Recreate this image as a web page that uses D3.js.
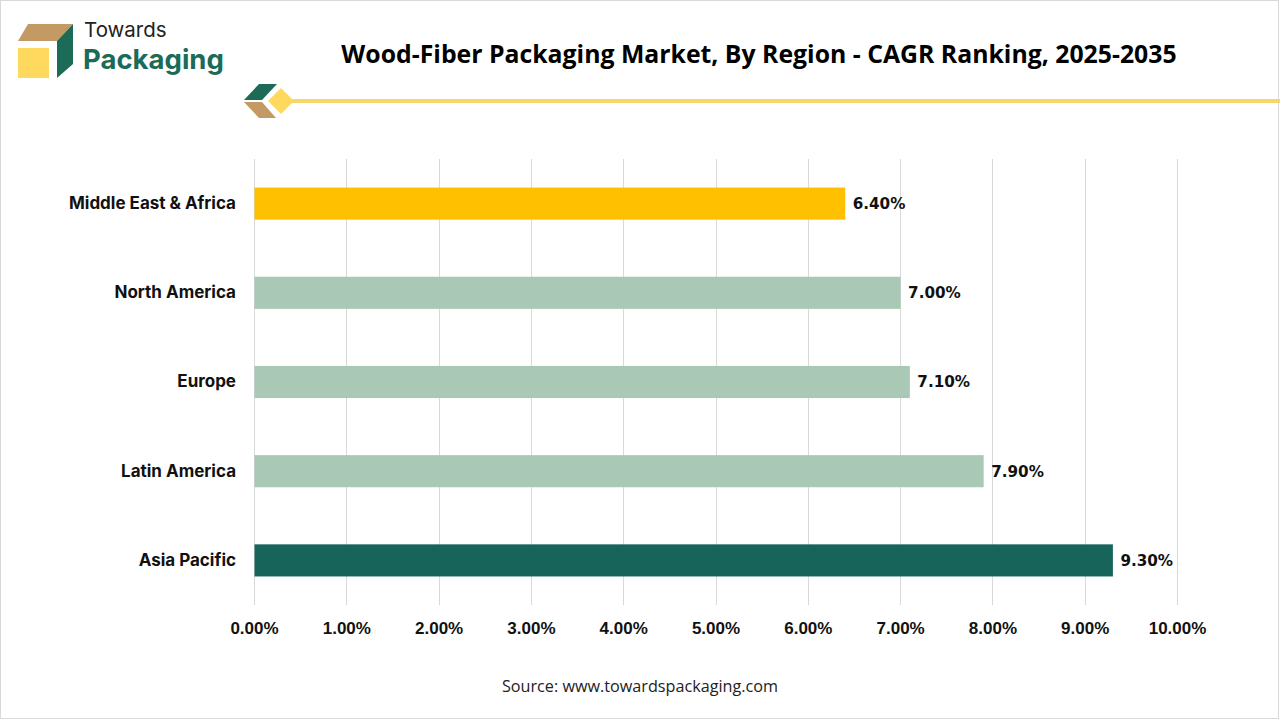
<!DOCTYPE html>
<html>
<head>
<meta charset="utf-8">
<script src="https://cdn.jsdelivr.net/npm/d3@7"></script>
<style>
  html, body { margin: 0; padding: 0; background: #fff; }
  svg { display: block; }
</style>
</head>
<body>
<div id="chart"></div>
<script>
const regions = ["Middle East & Africa", "North America", "Europe", "Latin America", "Asia Pacific"];
const cagr = [6.4, 7.0, 7.1, 7.9, 9.3];
const barColors = ["#FFC000", "#A9C8B5", "#A9C8B5", "#A9C8B5", "#17645A"];
const ticks = [0, 1, 2, 3, 4, 5, 6, 7, 8, 9, 10];

const W = 1280, H = 720;
const margin = {top: 159, right: 103, bottom: 115, left: 254},
    width = W - margin.left - margin.right,
    height = H - margin.top - margin.bottom;

const svg = d3.select("#chart").append("svg")
    .attr("width", W)
    .attr("height", H);

// frame
svg.append("rect")
    .attr("x", 0.5).attr("y", 0.5)
    .attr("width", W - 2).attr("height", H - 2)
    .attr("fill", "#fff").attr("stroke", "#d9d9d9");

// logo
const logo = svg.append("g");
logo.append("polygon").attr("points", "18,41 28,24 73,24 57,41").attr("fill", "#C49A64");
logo.append("polygon").attr("points", "57,41 73,24 73,64 57,78").attr("fill", "#1B6B57");
logo.append("rect").attr("x", 18).attr("y", 48).attr("width", 31).attr("height", 30).attr("fill", "#FFD95E");
logo.append("text").attr("x", 84).attr("y", 37)
    .attr("font-family", "Inter, 'Open Sans', sans-serif").attr("font-size", 20.5)
    .attr("fill", "#222").text("Towards");
logo.append("text").attr("x", 83).attr("y", 69)
    .attr("font-family", "Inter, 'Open Sans', sans-serif").attr("font-size", 27.5).attr("font-weight", 700)
    .attr("fill", "#1B6B57").text("Packaging");

// title
svg.append("text")
    .attr("x", 759).attr("y", 63)
    .attr("text-anchor", "middle")
    .attr("font-family", "'Open Sans', 'Noto Sans', sans-serif")
    .attr("font-size", 24.8).attr("font-weight", 700)
    .attr("fill", "#000")
    .text("Wood-Fiber Packaging Market, By Region - CAGR Ranking, 2025-2035");

// title decoration
const deco = svg.append("g");
deco.append("line").attr("x1", 288).attr("x2", W).attr("y1", 101).attr("y2", 101)
    .attr("stroke", "#F7D56B").attr("stroke-width", 4);
deco.append("polygon").attr("points", "244,100 259,84 277,84 262,100").attr("fill", "#1B6B57");
deco.append("polygon").attr("points", "244,102 262,102 276,118 259,118").attr("fill", "#C49A64");
deco.append("polygon").attr("points", "281,88 294,101 281,114 268,101").attr("fill", "#FFD95E");

const g = svg.append("g")
    .attr("transform", "translate(" + margin.left + "," + margin.top + ")");

const x = d3.scaleLinear()
    .domain([0, 10])
    .range([0, width]);

const y = d3.scaleBand()
    .domain(regions)
    .range([0, height])
    .paddingInner(0.64)
    .paddingOuter(0.32);

// gridlines
g.selectAll(".grid")
    .data(ticks)
    .join("line")
    .attr("class", "grid")
    .attr("x1", d => Math.round(x(d)) + 0.5)
    .attr("x2", d => Math.round(x(d)) + 0.5)
    .attr("y1", 0)
    .attr("y2", height)
    .attr("stroke", "#d9d9d9")
    .attr("stroke-width", 1);

// x axis labels
const xAxis = g.append("g")
    .attr("transform", "translate(0," + height + ")")
    .call(d3.axisBottom(x).tickValues(ticks).tickSize(0).tickPadding(17)
        .tickFormat(d => d.toFixed(2) + "%"));
xAxis.select(".domain").remove();
xAxis.selectAll("text")
    .attr("font-family", "'Liberation Sans', Arial, sans-serif")
    .attr("font-size", 17).attr("font-weight", 700).attr("fill", "#111");

// y axis labels
const yAxis = g.append("g")
    .call(d3.axisLeft(y).tickSize(0).tickPadding(18));
yAxis.select(".domain").remove();
yAxis.selectAll("text")
    .attr("font-family", "Inter, 'Open Sans', sans-serif")
    .attr("font-size", 17).attr("font-weight", 700).attr("fill", "#111");

// bars
g.selectAll(".bar")
    .data(regions)
    .join("rect")
    .attr("class", "bar")
    .attr("x", x(0) + 0.5)
    .attr("y", d => y(d))
    .attr("width", (d, i) => x(cagr[i]) - x(0))
    .attr("height", y.bandwidth())
    .attr("fill", (d, i) => barColors[i]);

// value labels
g.selectAll(".val")
    .data(regions)
    .join("text")
    .attr("class", "val")
    .attr("x", (d, i) => x(cagr[i]) + 8)
    .attr("y", d => y(d) + y.bandwidth() / 2)
    .attr("dy", "0.36em")
    .attr("font-family", "'DejaVu Sans', Verdana, sans-serif")
    .attr("font-size", 15.2).attr("font-weight", 700).attr("fill", "#111")
    .text((d, i) => cagr[i].toFixed(2) + "%");

// source
svg.append("text")
    .attr("x", 640).attr("y", 692)
    .attr("text-anchor", "middle")
    .attr("font-family", "'Open Sans', 'Noto Sans', sans-serif")
    .attr("font-size", 16.2).attr("fill", "#222")
    .text("Source: www.towardspackaging.com");
</script>
</body>
</html>
